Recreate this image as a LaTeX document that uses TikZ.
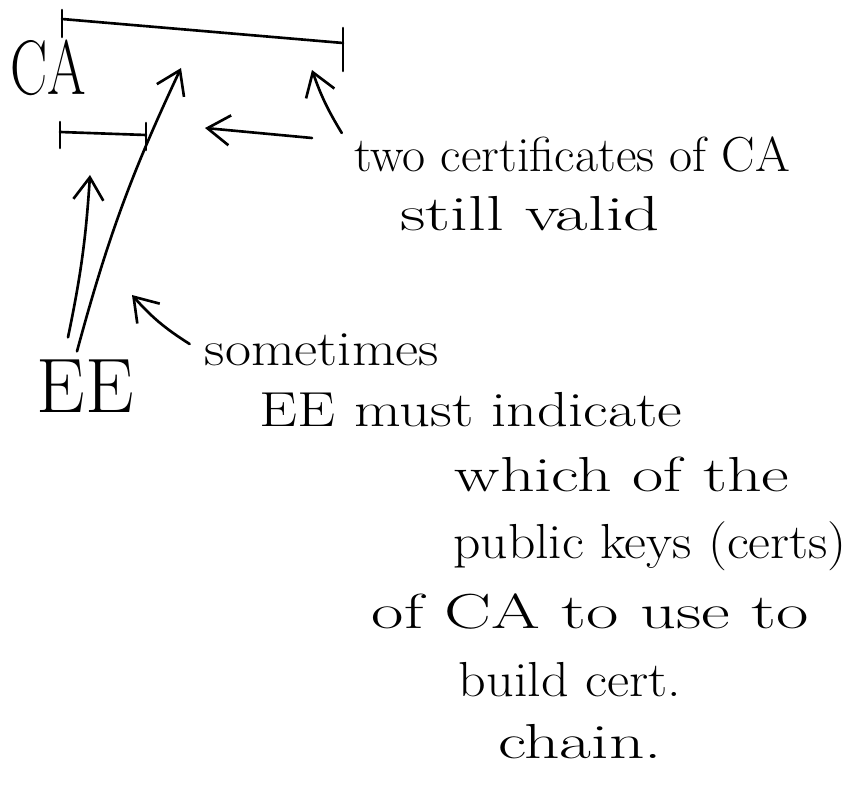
\documentclass[tikz,border=0pt]{standalone}
\usepackage{tikz}
\usepackage{graphicx}
\usetikzlibrary{arrows.meta}

% Texto "a mano": ancho estirado
\newcommand{\hw}[2]{\scalebox{#1}[1]{#2}}

\begin{document}
\begin{tikzpicture}[x=0.02cm,y=-0.02cm,
  pen/.style={line width=1.5pt,line cap=round},
  pointer/.style={pen,-{Straight Barb[length=4.5mm,width=6mm]}},
  note/.style={font=\fontsize{28}{32}\selectfont,inner sep=0pt},
  party/.style={font=\fontsize{44}{48}\selectfont,inner sep=0pt}]
\useasboundingbox (0,0) rectangle (849,790);

% Entidades
\node[party] (ca) at (48,68) {\hw{0.72}{CA}};
\node[party] (ee) at (85,386) {EE};

% Periodos de validez de los certificados de CA
\coordinate (longA) at (62,19);
\coordinate (longB) at (343,43);
\coordinate (shortA) at (60,132);
\coordinate (shortB) at (146,135);
\draw[pen] (longA) -- (longB);
\draw[pen] ([shift={(0,-9)}]longA) -- ([shift={(0,18)}]longA);
\draw[pen] ([shift={(0,-15)}]longB) -- ([shift={(0,28)}]longB);
\draw[pen] (shortA) -- (shortB);
\draw[pen] ([shift={(0,-10)}]shortA) -- ([shift={(0,16)}]shortA);
\draw[pen] ([shift={(0,-12)}]shortB) -- ([shift={(0,15)}]shortB);

% Firmas que apuntan desde EE
\coordinate (shortSig) at (90,175);
\coordinate (longSig) at (181,68);
\draw[pointer] ([shift={(-17,-22)}]ee.north) to[bend right=4] (shortSig);
\draw[pointer] ([shift={(-8,-8)}]ee.north) to[bend left=5] (longSig);

% Textos
\node[note] (twocerts) at (572,155) {\hw{1.02}{two certificates of CA}};
\node[note] (valid) at (530,214) {\hw{1.44}{still valid}};
\node[note] (sometimes) at (322,350) {\hw{1.15}{sometimes}};
\node[note] (must) at (471,410) {\hw{1.23}{EE must indicate}};
\node[note] (which) at (622,474) {\hw{1.38}{which of the}};
\node[note] (keys) at (650,546) {\hw{1.09}{public keys (certs)}};
\node[note] (ofca) at (590,612) {\hw{1.43}{of CA to use to}};
\node[note] (build) at (570,680) {\hw{1.1}{build cert.}};
\node[note] (chain) at (580,742) {\hw{1.41}{chain.}};

% Flechas de las notas
\coordinate (gap) at (205,128);
\coordinate (gapTail) at (312,138);
\coordinate (longEnd) at (312,70);
\coordinate (sigs) at (132,295);
\draw[pointer] (gapTail) -- (gap);
\draw[pointer] ([shift={(-12,-22)}]twocerts.west) to[bend left=6] (longEnd);
\draw[pointer] ([shift={(-15,-6)}]sometimes.west) to[bend left=8] (sigs);
\end{tikzpicture}
\end{document}
